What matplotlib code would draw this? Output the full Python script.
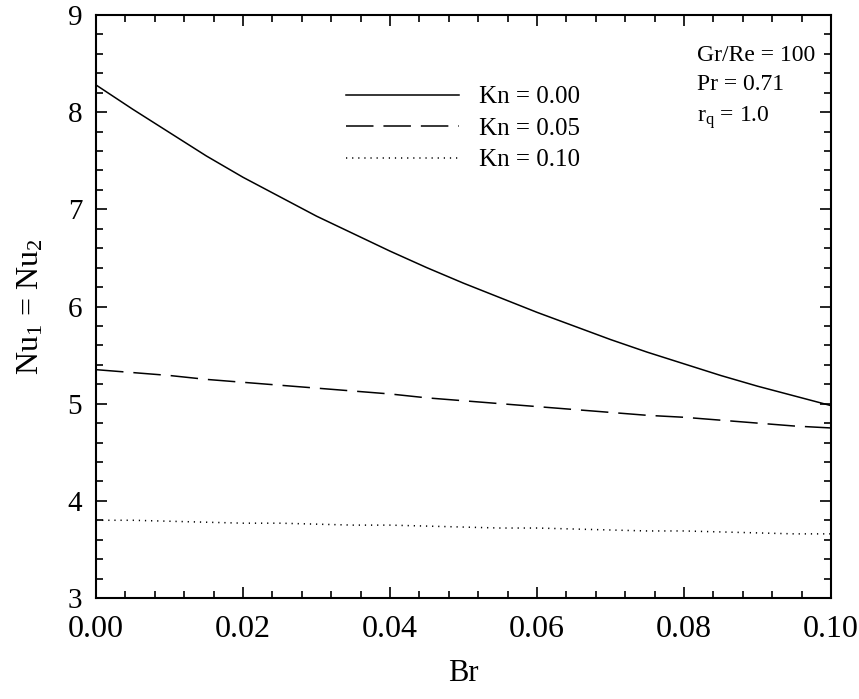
import matplotlib
matplotlib.use('Agg')
import matplotlib.pyplot as plt
from matplotlib.ticker import MultipleLocator, FormatStrFormatter

plt.rcParams['font.family'] = 'Liberation Serif'
plt.rcParams['mathtext.fontset'] = 'custom'
plt.rcParams['mathtext.rm'] = 'Liberation Serif'
plt.rcParams['mathtext.it'] = 'Liberation Serif:italic'

# values
br = [0.000, 0.005, 0.010, 0.015, 0.020, 0.025, 0.030, 0.035, 0.040, 0.045, 0.050,
      0.055, 0.060, 0.065, 0.070, 0.075, 0.080, 0.085, 0.090, 0.095, 0.100]
nu_kn000 = [8.28, 8.03, 7.79, 7.55, 7.33, 7.13, 6.93, 6.75, 6.57, 6.40, 6.24,
            6.09, 5.94, 5.80, 5.66, 5.53, 5.41, 5.29, 5.18, 5.08, 4.98]
nu_kn005 = [5.35, 5.32, 5.29, 5.25, 5.22, 5.19, 5.16, 5.13, 5.10, 5.06, 5.03,
            5.00, 4.97, 4.94, 4.91, 4.88, 4.86, 4.83, 4.80, 4.77, 4.75]
nu_kn010 = [3.80, 3.80, 3.79, 3.78, 3.77, 3.77, 3.76, 3.75, 3.75, 3.74, 3.73,
            3.72, 3.72, 3.71, 3.70, 3.69, 3.69, 3.68, 3.67, 3.66, 3.66]
labels = ['Kn = 0.00', 'Kn = 0.05', 'Kn = 0.10']

fig = plt.figure(figsize=(8.59, 6.99), dpi=100)
ax = fig.add_axes([0.1118, 0.1445, 0.8556, 0.834])

ax.plot(br, nu_kn000, color='black', lw=1.1, ls='-', label=labels[0])
ax.plot(br, nu_kn005, color='black', lw=1.1, ls=(0, (18, 6.5)), label=labels[1])
ax.plot(br, nu_kn010, color='black', lw=1.1, ls=(0, (0.8, 3.2)), label=labels[2])

ax.set_xlim(0, 0.1)
ax.set_ylim(3, 9)
ax.xaxis.set_major_locator(MultipleLocator(0.02))
ax.xaxis.set_minor_locator(MultipleLocator(0.004))
ax.yaxis.set_major_locator(MultipleLocator(1))
ax.yaxis.set_minor_locator(MultipleLocator(0.2))
ax.xaxis.set_major_formatter(FormatStrFormatter('%.2f'))
ax.tick_params(which='both', direction='in', top=True, right=True, width=1.2)
ax.tick_params(which='major', length=8)
ax.tick_params(which='minor', length=5)
ax.tick_params(axis='x', labelsize=23, pad=12)
ax.tick_params(axis='y', labelsize=21, pad=10)
for s in ax.spines.values():
    s.set_linewidth(1.5)

ax.set_xlabel('Br', fontsize=22, labelpad=11)
ax.set_ylabel('Nu$_1$ = Nu$_2$', fontsize=23, labelpad=16)

leg = ax.legend(loc='upper left', bbox_to_anchor=(0.31, 0.917), frameon=False,
                fontsize=18, handlelength=4.5, handletextpad=0.8, labelspacing=0.36)

ax.text(0.818, 0.948, 'Gr/Re = 100\nPr = 0.71\n' + r'r$_\mathrm{q}$ = 1.0',
        transform=ax.transAxes, fontsize=17, va='top', ha='left', linespacing=1.5)

fig.savefig('out.png', dpi=100)
